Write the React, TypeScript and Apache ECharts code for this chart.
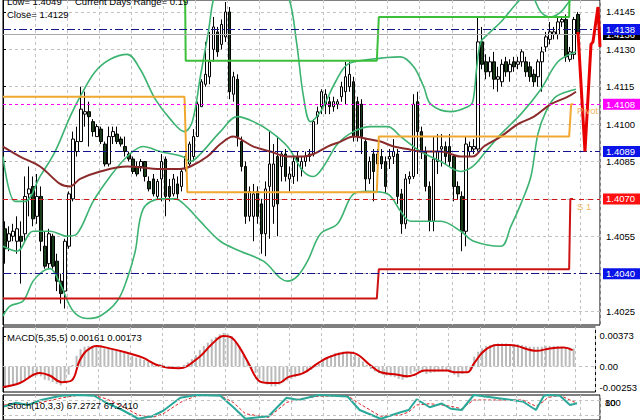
import React, { useEffect, useRef } from "react";
import * as echarts from "echarts";

const NBARS = 149;
const FONT = '"Liberation Sans", Arial, sans-serif';

// ---- candles (M30 bars) ----
const opens = [
  1.4058, 1.4053, 1.4055, 1.4053, 1.4055, 1.4056, 1.4072, 1.4075, 1.4063, 1.4071,
  1.4051, 1.4044, 1.4055, 1.4045, 1.4037, 1.4033, 1.4051, 1.4070, 1.4089, 1.4093,
  1.4104, 1.4105, 1.4101, 1.4095, 1.4098, 1.4092, 1.4084, 1.4095, 1.4096, 1.4094,
  1.4091, 1.4088, 1.4086, 1.4083, 1.4083, 1.4085, 1.4077, 1.4078, 1.4071, 1.4078,
  1.4086, 1.4075, 1.4072, 1.4076, 1.4075, 1.4082, 1.4084, 1.4087, 1.4095, 1.4107,
  1.4116, 1.4119, 1.4130, 1.4137, 1.4132, 1.4135, 1.4145, 1.4112, 1.4118, 1.4093,
  1.4083, 1.4063, 1.4063, 1.4073, 1.4068, 1.4056, 1.4075, 1.4067, 1.4087, 1.4083,
  1.4088, 1.4078, 1.4079, 1.4087, 1.4082, 1.4085, 1.4087, 1.4088, 1.4103, 1.4107,
  1.4108, 1.4109, 1.4107, 1.4108, 1.4111, 1.4113, 1.4115, 1.4117, 1.4109, 1.4108,
  1.4093, 1.4078, 1.4088, 1.4084, 1.4087, 1.4085, 1.4086, 1.4087, 1.4088, 1.4072,
  1.4060, 1.4078, 1.4079, 1.4109, 1.4097, 1.4089, 1.4075, 1.4061, 1.4085, 1.4090,
  1.4091, 1.4091, 1.4087, 1.4075, 1.4071, 1.4057, 1.4089, 1.4090, 1.4090, 1.4133,
  1.4125, 1.4121, 1.4125, 1.4118, 1.4117, 1.4125, 1.4121, 1.4125, 1.4124, 1.4125,
  1.4125, 1.4123, 1.4120, 1.4119, 1.4125, 1.4131, 1.4134, 1.4136, 1.4136, 1.4141,
  1.4142, 1.4126, 1.4128, 1.4144,
];
const closes = [
  1.4050, 1.4056, 1.4057, 1.4058, 1.4053, 1.4071, 1.4074, 1.4062, 1.4071, 1.4053,
  1.4043, 1.4056, 1.4043, 1.4037, 1.4032, 1.4053, 1.4072, 1.4094, 1.4093, 1.4106,
  1.4105, 1.4103, 1.4097, 1.4099, 1.4093, 1.4084, 1.4095, 1.4097, 1.4093, 1.4092,
  1.4089, 1.4086, 1.4081, 1.4080, 1.4085, 1.4079, 1.4074, 1.4072, 1.4077, 1.4085,
  1.4071, 1.4071, 1.4078, 1.4072, 1.4081, 1.4087, 1.4092, 1.4095, 1.4108, 1.4117,
  1.4120, 1.4125, 1.4139, 1.4129, 1.4140, 1.4145, 1.4113, 1.4119, 1.4095, 1.4083,
  1.4063, 1.4073, 1.4072, 1.4063, 1.4056, 1.4074, 1.4084, 1.4084, 1.4068, 1.4088,
  1.4079, 1.4080, 1.4085, 1.4085, 1.4085, 1.4087, 1.4088, 1.4101, 1.4105, 1.4113,
  1.4112, 1.4107, 1.4109, 1.4109, 1.4115, 1.4119, 1.4120, 1.4095, 1.4095, 1.4095,
  1.4078, 1.4085, 1.4081, 1.4088, 1.4084, 1.4075, 1.4087, 1.4089, 1.4071, 1.4060,
  1.4078, 1.4079, 1.4108, 1.4097, 1.4089, 1.4075, 1.4061, 1.4086, 1.4089, 1.4091,
  1.4087, 1.4085, 1.4075, 1.4072, 1.4057, 1.4092, 1.4091, 1.4091, 1.4133, 1.4124,
  1.4121, 1.4125, 1.4118, 1.4119, 1.4124, 1.4121, 1.4124, 1.4123, 1.4125, 1.4129,
  1.4121, 1.4119, 1.4117, 1.4125, 1.4129, 1.4135, 1.4137, 1.4137, 1.4141, 1.4142,
  1.4127, 1.4129, 1.4142, 1.4136,
];
const lows = [
  1.4044, 1.4049, 1.4053, 1.4048, 1.4036, 1.4053, 1.4063, 1.4059, 1.4060, 1.4049,
  1.4042, 1.4042, 1.4042, 1.4033, 1.4028, 1.4026, 1.4050, 1.4069, 1.4087, 1.4093,
  1.4099, 1.4091, 1.4095, 1.4095, 1.4092, 1.4083, 1.4083, 1.4092, 1.4092, 1.4091,
  1.4087, 1.4085, 1.4080, 1.4079, 1.4081, 1.4077, 1.4073, 1.4071, 1.4070, 1.4069,
  1.4063, 1.4069, 1.4071, 1.4070, 1.4073, 1.4081, 1.4083, 1.4085, 1.4095, 1.4107,
  1.4115, 1.4116, 1.4125, 1.4127, 1.4130, 1.4133, 1.4110, 1.4109, 1.4091, 1.4081,
  1.4060, 1.4061, 1.4053, 1.4060, 1.4048, 1.4047, 1.4054, 1.4060, 1.4055, 1.4077,
  1.4077, 1.4073, 1.4076, 1.4077, 1.4079, 1.4083, 1.4085, 1.4087, 1.4100, 1.4104,
  1.4104, 1.4104, 1.4105, 1.4106, 1.4109, 1.4108, 1.4113, 1.4093, 1.4093, 1.4088,
  1.4073, 1.4076, 1.4069, 1.4082, 1.4082, 1.4072, 1.4082, 1.4084, 1.4068, 1.4056,
  1.4058, 1.4076, 1.4078, 1.4080, 1.4086, 1.4073, 1.4057, 1.4057, 1.4080, 1.4083,
  1.4084, 1.4083, 1.4069, 1.4070, 1.4049, 1.4051, 1.4087, 1.4088, 1.4089, 1.4122,
  1.4118, 1.4119, 1.4114, 1.4113, 1.4115, 1.4119, 1.4117, 1.4121, 1.4122, 1.4123,
  1.4119, 1.4117, 1.4115, 1.4115, 1.4113, 1.4129, 1.4132, 1.4134, 1.4134, 1.4139,
  1.4125, 1.4125, 1.4126, 1.4135,
];
const highs = [
  1.4061, 1.4059, 1.4060, 1.4063, 1.4061, 1.4079, 1.4083, 1.4079, 1.4080, 1.4075,
  1.4057, 1.4058, 1.4056, 1.4048, 1.4040, 1.4054, 1.4073, 1.4097, 1.4099, 1.4115,
  1.4113, 1.4109, 1.4102, 1.4100, 1.4099, 1.4093, 1.4099, 1.4099, 1.4099, 1.4095,
  1.4095, 1.4089, 1.4087, 1.4085, 1.4086, 1.4085, 1.4079, 1.4080, 1.4078, 1.4088,
  1.4087, 1.4078, 1.4080, 1.4079, 1.4082, 1.4088, 1.4093, 1.4098, 1.4109, 1.4118,
  1.4133, 1.4137, 1.4143, 1.4139, 1.4142, 1.4149, 1.4147, 1.4121, 1.4120, 1.4095,
  1.4085, 1.4075, 1.4076, 1.4075, 1.4070, 1.4077, 1.4097, 1.4092, 1.4095, 1.4089,
  1.4090, 1.4083, 1.4087, 1.4089, 1.4087, 1.4089, 1.4090, 1.4102, 1.4107, 1.4114,
  1.4114, 1.4111, 1.4111, 1.4110, 1.4117, 1.4125, 1.4125, 1.4119, 1.4111, 1.4110,
  1.4094, 1.4087, 1.4090, 1.4090, 1.4090, 1.4087, 1.4090, 1.4094, 1.4090, 1.4074,
  1.4080, 1.4081, 1.4112, 1.4113, 1.4099, 1.4091, 1.4077, 1.4095, 1.4096, 1.4096,
  1.4093, 1.4096, 1.4088, 1.4077, 1.4073, 1.4095, 1.4093, 1.4094, 1.4143, 1.4139,
  1.4128, 1.4127, 1.4129, 1.4123, 1.4126, 1.4127, 1.4126, 1.4127, 1.4127, 1.4130,
  1.4127, 1.4125, 1.4122, 1.4126, 1.4131, 1.4137, 1.4141, 1.4139, 1.4143, 1.4143,
  1.4144, 1.4131, 1.4143, 1.4145,
];

// ---- overlays, x in bar units (0 = left edge of plot) ----
const bbUpper = [
  [0, 1.4087], [3, 1.4069], [5.5, 1.4069], [9.25, 1.4079], [13, 1.4089], [16.75, 1.4103],
  [19.25, 1.4111], [23, 1.4121], [26.75, 1.4126], [31, 1.4128], [34.25, 1.4122], [38, 1.411],
  [41.75, 1.4102], [45.25, 1.4097], [47.25, 1.4101], [49.25, 1.4119], [51.25, 1.4137],
  [53, 1.4153], [56.75, 1.4163], [66.75, 1.4163], [71.25, 1.4151], [73.25, 1.4133],
  [75, 1.4111], [76.75, 1.4101], [79.25, 1.4105], [83, 1.4117], [86, 1.4124], [91.75, 1.4126],
  [99.25, 1.4127], [102.5, 1.4123], [105, 1.4115], [106.75, 1.4108], [111.75, 1.4105],
  [116, 1.4107], [117.25, 1.4109], [118.25, 1.4123], [119.25, 1.4133], [121, 1.4136],
  [124.25, 1.4141], [128.5, 1.4149], [131.25, 1.4153], [134.25, 1.4145], [136.75, 1.4143],
  [139.25, 1.4145], [141.25, 1.4149], [143.5, 1.4152],
];
const bbMiddle = [
  [0, 1.4051], [3.5, 1.4049], [7.5, 1.4057], [11.75, 1.4057], [16, 1.4055], [18.5, 1.4056],
  [22.5, 1.4069], [26.75, 1.4079], [31, 1.4087], [35, 1.4091], [39.25, 1.4089], [44.75, 1.4087],
  [46.75, 1.4085], [49.25, 1.4088], [54.25, 1.4097], [58.5, 1.4103], [62.5, 1.4101],
  [66.75, 1.4097], [71, 1.4091], [75, 1.4081], [77.5, 1.4079], [80, 1.4083], [83.5, 1.4092],
  [87.5, 1.4097], [91.75, 1.4099], [96, 1.4099], [99.25, 1.4095], [104.25, 1.4089],
  [109.25, 1.4085], [114.25, 1.4081], [117.25, 1.4083], [120.5, 1.4089], [124.25, 1.4096],
  [129.25, 1.4104], [134.25, 1.4114], [138.5, 1.4125], [143, 1.4129],
];
const bbLower = [
  [0, 1.4023], [1.75, 1.4027], [5, 1.4029], [7.5, 1.4037], [10, 1.4041], [11.75, 1.4042],
  [14.25, 1.4036], [17.5, 1.4025], [21, 1.4022], [24.25, 1.4023], [28.5, 1.4029], [31, 1.4038],
  [33, 1.4049], [35, 1.4066], [39.25, 1.407], [43, 1.407], [45.75, 1.4067], [49.25, 1.4061],
  [54.25, 1.4053], [59.25, 1.4049], [65, 1.4045], [71, 1.4037], [73.5, 1.4039], [76, 1.4045],
  [79.25, 1.4056], [83.5, 1.406], [87.5, 1.4072], [91, 1.4073], [96, 1.4072], [99.25, 1.4065],
  [101.75, 1.4061], [109.25, 1.4061], [114.25, 1.4057], [117.5, 1.4053], [124.25, 1.4051],
  [126.75, 1.4059], [129.25, 1.4068], [131.75, 1.4079], [133.5, 1.4096], [135.5, 1.4105],
  [138, 1.4111], [143, 1.4114],
];
const movingAvg = [
  [0, 1.4091], [4.25, 1.4087], [9.25, 1.4083], [14.25, 1.4076], [16.75, 1.4075], [19.25, 1.4078],
  [24.25, 1.4081], [31, 1.4083], [39.25, 1.4082], [44.25, 1.4082], [46.75, 1.4083], [51, 1.4087],
  [54.25, 1.4092], [57.5, 1.4095], [59.25, 1.4094], [62.5, 1.4091], [66.75, 1.4089], [71, 1.4087],
  [75, 1.4087], [77.5, 1.4088], [81, 1.4091], [84.25, 1.4093], [87.5, 1.4095], [91, 1.4094],
  [94.25, 1.4093], [97.5, 1.4091], [101, 1.409], [104.25, 1.4089], [109.25, 1.4089],
  [114.25, 1.4087], [117.25, 1.4087], [120, 1.4091], [124.25, 1.4095], [128.5, 1.41],
  [132.5, 1.4103], [136.75, 1.4108], [141, 1.4111], [143, 1.4113],
];
const pivotLine = [
  [0, 1.4111], [45.3, 1.4111], [46, 1.40727], [93.3, 1.40727], [93.8, 1.4095],
  [141.3, 1.4095], [141.8, 1.4108], [142.3, 1.4108],
];
const s1Line = [
  [0, 1.403], [93.3, 1.403], [93.8, 1.40418], [141.3, 1.40418], [141.6, 1.407], [142.3, 1.407],
];
const r1Line = [
  [45.4, 1.416], [45.6, 1.41254], [93.3, 1.41254], [93.8, 1.4143], [141.3, 1.4143], [141.5, 1.416],
];
const forecast = [
  [143.5, 1.4137], [145.25, 1.4089], [146.75, 1.4132], [147.25, 1.4133], [148.5, 1.4147], [149, 1.4131],
];
const priceTicks = [1.4025, 1.404, 1.4055, 1.407, 1.4085, 1.41, 1.4115, 1.413, 1.4145];
const levels = [
  { value: 1.4136, line: "#a8a8a8", type: "solid", box: "#000000" },
  { value: 1.4138, line: "#14148c", type: [8, 3, 2, 3], box: "#0a14e8" },
  { value: 1.4108, line: "#ff00ff", type: [3, 3], box: "#ff00ff" },
  { value: 1.4089, line: "#14148c", type: [8, 3, 2, 3], box: "#0a14e8" },
  { value: 1.407, line: "#d01818", type: [5, 4], box: "#ff1010" },
  { value: 1.404, line: "#14148c", type: [8, 3, 2, 3], box: "#0a14e8" },
];

// ---- MACD(5,35,5) ----
const macdHist = [
  -0.0024, -0.0024, -0.0023, -0.0022, -0.002, -0.0016, -0.0013, -0.0012, -0.0011, -0.0012,
  -0.0016, -0.0017, -0.0019, -0.0021, -0.0023, -0.0019, -0.001, 0.0002, 0.0013, 0.0021,
  0.0024, 0.0025, 0.0025, 0.0025, 0.0024, 0.0022, 0.0022, 0.0021, 0.002, 0.0019,
  0.0017, 0.0015, 0.0013, 0.0011, 0.001, 0.0008, 0.0006, 0.0004, 0.0003, 0.0003,
  0.0001, 0.0, -0.0001, -0.0001, 0.0, 0.0002, 0.0005, 0.0009, 0.0014, 0.002,
  0.0025, 0.0029, 0.0033, 0.0036, 0.0039, 0.0041, 0.004, 0.0037, 0.0031, 0.0024,
  0.0014, 0.0006, -0.0002, -0.0008, -0.0015, -0.0019, -0.0022, -0.0024, -0.0024, -0.0022,
  -0.0019, -0.0017, -0.0015, -0.0013, -0.0011, -0.0009, -0.0007, -0.0004, -0.0001, 0.0003,
  0.0007, 0.0011, 0.0014, 0.0016, 0.0017, 0.0018, 0.0018, 0.0017, 0.0014, 0.0011,
  0.0006, 0.0002, -0.0003, -0.0006, -0.0008, -0.001, -0.0011, -0.0012, -0.0013, -0.0015,
  -0.0016, -0.0014, -0.0009, -0.0006, -0.0006, -0.0007, -0.0009, -0.0008, -0.0007, -0.0006,
  -0.0006, -0.0006, -0.0008, -0.001, -0.0013, -0.0009, -0.0006, -0.0003, 0.0012, 0.0018,
  0.0022, 0.0025, 0.0026, 0.0027, 0.0028, 0.0028, 0.0028, 0.0027, 0.0027, 0.0027,
  0.0026, 0.0025, 0.0024, 0.0024, 0.0024, 0.0024, 0.0025, 0.0025, 0.0025, 0.0025,
  0.0024, 0.0023, 0.0023, 0.0022,
];
const macdSignal = [
  [0, -0.0025], [4.25, -0.002], [9.25, -0.0008], [11.75, -0.0011], [14.75, -0.0019],
  [17.25, -0.0017], [19.25, 0.0007], [21, 0.0019], [23.5, 0.0025], [26.75, 0.0022],
  [31, 0.0017], [35, 0.0011], [39.25, 0.0001], [44.25, -0.0002], [49.25, 0.0011],
  [52.5, 0.0027], [55.5, 0.0037], [57.5, 0.0035], [59.25, 0.0025], [61.75, 0.0004],
  [64.25, -0.0017], [66.75, -0.002], [69.25, -0.002], [71.75, -0.0013], [75.5, -0.0008],
  [79.25, 0.0004], [81.75, 0.0011], [86.75, 0.0017], [88.5, 0.0016], [92.5, 0.0001],
  [95, -0.0007], [99.25, -0.001], [101.75, -0.0012], [103.5, -0.001], [106, -0.0005],
  [111.75, -0.0005], [113.5, -0.0007], [116.75, -0.0007], [118.5, 0.0004], [121, 0.0019],
  [124.25, 0.0026], [127.5, 0.0026], [134.25, 0.0019], [137.5, 0.0022], [141, 0.0023],
  [143.25, 0.002],
];
const macdTicks = [-0.00253, 0, 0.00373];

// ---- Stochastic(10,3,3) ----
const stochK = [
  [0.25, 54], [3.25, 69], [6.25, 60], [9.5, 80], [14.5, 97], [18.75, 100], [22.75, 97],
  [25.75, 69], [29.75, 40], [33.75, 5], [37.25, 15], [40, 37], [44.25, 89], [48.25, 100],
  [54.25, 97], [57.5, 51], [60.5, 5], [66.25, 15], [70.75, 89], [73.75, 80], [78.75, 100],
  [86, 94], [89, 40], [94.25, 5], [99.25, 31], [101.25, 40], [103.25, 83], [106.5, 51],
  [109.5, 66], [111.75, 45], [114.5, 40], [117.5, 100], [129.75, 74], [133, 40], [135, 97],
  [136, 100], [139, 97], [141.5, 60], [143.25, 67],
];
const stochD = [
  [0.25, 60], [3.25, 62], [6.25, 63], [9.5, 70], [14.5, 88], [18.75, 99], [22.75, 98],
  [25.75, 85], [29.75, 55], [33.75, 20], [37.25, 10], [40, 25], [44.25, 70], [48.25, 97],
  [54.25, 98], [57.5, 70], [60.5, 25], [66.25, 10], [70.75, 70], [73.75, 84], [78.75, 95],
  [86, 97], [89, 65], [94.25, 15], [99.25, 20], [101.25, 32], [103.25, 60], [106.5, 65],
  [109.5, 60], [111.75, 55], [114.5, 45], [117.5, 80], [129.75, 80], [133, 55], [135, 75],
  [136, 90], [139, 99], [141.5, 80], [143.25, 67],
];

const cats = Array.from({ length: NBARS }, (_, i) => String(i));
const candleData = cats.map((_, i) =>
  i < opens.length ? [opens[i], closes[i], lows[i], highs[i]] : "-"
);
const histData = cats.map((_, i) => (i < macdHist.length ? macdHist[i] : "-"));

const gridDash = { show: true, lineStyle: { color: "#c2c2c2", type: [3, 3], width: 1 } };
const hiddenCat = (gridIndex: number) => ({
  type: "category", gridIndex, data: cats, boundaryGap: true,
  axisLine: { show: false }, axisTick: { show: false }, axisLabel: { show: false }, splitLine: { show: false },
});
const barAxis = (gridIndex: number) => ({
  type: "value", gridIndex, min: 0, max: NBARS, interval: 8,
  axisLine: { show: false }, axisTick: { show: false }, axisLabel: { show: false }, splitLine: gridDash,
});
const lineSeries = (data: number[][], color: string, width: number, extra: any = {}) => ({
  type: "line", xAxisIndex: 1, yAxisIndex: 0, data, symbol: "none", silent: true,
  lineStyle: { color, width }, z: 4, ...extra,
});
const textEl = (text: string, x: number, y: number, fill = "#000", size = 9.5) => ({
  type: "text", x, y, silent: true, z: 100,
  style: { text, fill, font: `${size}px ${FONT}`, textAlign: "left", textVerticalAlign: "middle", align: "left", verticalAlign: "middle" },
});

const option: any = {
  animation: false,
  backgroundColor: "#ffffff",
  textStyle: { fontFamily: FONT },
  grid: [
    { left: 3, right: 40, top: -1, height: 326, show: true, borderColor: "#000", borderWidth: 1, backgroundColor: "#fff" },
    { left: 3, right: 40, top: 327, height: 65, show: true, borderColor: "#000", borderWidth: 1, backgroundColor: "#fff" },
    { left: 3, right: 40, top: 395, height: 36, show: true, borderColor: "#000", borderWidth: 1, backgroundColor: "#fff" },
  ],
  xAxis: [hiddenCat(0), barAxis(0), hiddenCat(1), barAxis(1), barAxis(2)],
  yAxis: [
    {
      type: "value", gridIndex: 0, position: "right", min: 1.40194, max: 1.41498,
      axisLine: { show: true, lineStyle: { color: "#000" } },
      axisTick: { show: true, length: 3, customValues: priceTicks, lineStyle: { color: "#000" } },
      axisLabel: { customValues: priceTicks, formatter: (v: number) => v.toFixed(4), color: "#000", fontSize: 9.5, fontFamily: FONT, margin: 6 },
      splitLine: gridDash,
    },
    {
      type: "value", gridIndex: 1, position: "right", min: -0.0031, max: 0.0048,
      axisLine: { show: true, lineStyle: { color: "#000" } },
      axisTick: { show: true, length: 3, customValues: macdTicks, lineStyle: { color: "#000" } },
      axisLabel: { customValues: macdTicks, formatter: (v: number) => (v === 0 ? "0.00" : v.toFixed(5)), color: "#000", fontSize: 9.5, fontFamily: FONT, margin: 4 },
      splitLine: { show: false },
    },
    {
      type: "value", gridIndex: 2, position: "right", min: 0, max: 100,
      axisLine: { show: true, lineStyle: { color: "#000" } },
      axisTick: { show: false }, axisLabel: { show: false }, splitLine: { show: false },
    },
  ],
  series: [
    {
      type: "candlestick", xAxisIndex: 0, yAxisIndex: 0, data: candleData, barWidth: 3, silent: true, z: 3,
      itemStyle: { color: "#ffffff", color0: "#1a3d1a", borderColor: "#000000", borderColor0: "#000000", borderWidth: 1 },
    },
    lineSeries(bbMiddle, "#3cb371", 1.6, {
      smooth: 0.35,
      markLine: {
        silent: true, symbol: "none", animation: false, precision: 6,
        data: levels.map((l) => ({
          yAxis: l.value,
          lineStyle: { color: l.line, type: l.type, width: 1 },
          label: {
            show: true, position: "end", distance: 3, formatter: l.value.toFixed(4),
            color: "#fff", backgroundColor: l.box, padding: [1, 8, 0, 3], lineHeight: 10,
            fontSize: 9.5, fontFamily: FONT,
          },
        })),
      },
    }),
    lineSeries(bbUpper, "#3cb371", 1.6, { smooth: 0.35 }),
    lineSeries(bbLower, "#3cb371", 1.6, { smooth: 0.35 }),
    lineSeries(movingAvg, "#8b2a2a", 2, { smooth: 0.35 }),
    lineSeries(pivotLine, "#f0a830", 2),
    lineSeries(s1Line, "#cc1414", 2),
    lineSeries(r1Line, "#3cc03c", 2),
    lineSeries(forecast, "#e80000", 3, { z: 6 }),
    {
      type: "bar", xAxisIndex: 2, yAxisIndex: 1, data: histData, barWidth: 2, silent: true,
      itemStyle: { color: "#bababa" },
      markLine: {
        silent: true, symbol: "none", label: { show: false }, precision: 6,
        data: [{ yAxis: 0 }], lineStyle: { color: "#c2c2c2", type: [3, 3], width: 1 },
      },
    },
    {
      type: "line", xAxisIndex: 3, yAxisIndex: 1, data: macdSignal, symbol: "none", silent: true,
      smooth: 0.4, lineStyle: { color: "#d40000", width: 2 }, z: 4,
    },
    {
      type: "line", xAxisIndex: 4, yAxisIndex: 2, data: stochD, symbol: "none", silent: true,
      lineStyle: { color: "#e02020", width: 1, type: [3, 2] }, z: 3,
      markLine: {
        silent: true, symbol: "none", label: { show: false },
        data: [{ yAxis: 80 }, { yAxis: 20 }], lineStyle: { color: "#c2c2c2", type: [3, 3], width: 1 },
      },
    },
    {
      type: "line", xAxisIndex: 4, yAxisIndex: 2, data: stochK, symbol: "none", silent: true,
      lineStyle: { color: "#2aa89a", width: 2 }, z: 4,
    },
  ],
  graphic: [
    textEl("Low= 1.4049", 7, 1),
    textEl("Current Days Range= 0.19", 75, 1),
    textEl("Close= 1.4129", 7, 14),
    textEl("MACD(5,35,5) 0.00161 0.00173", 7, 337),
    textEl("Stoch(10,3,3) 67.2727 67.2410", 7, 405),
    textEl("Pivot", 577, 110, "#f0b860"),
    textEl("S 1", 577, 206, "#f0b860"),
    textEl("100", 605, 402),
    textEl("80", 605, 402),
  ],
};

export default function App() {
  const ref = useRef<HTMLDivElement>(null);
  useEffect(() => {
    if (!ref.current) return;
    const chart = echarts.init(ref.current, null, { renderer: "svg" });
    chart.setOption(option);
    return () => chart.dispose();
  }, []);
  return (
    <div
      ref={ref}
      style={{ position: "fixed", left: 0, top: 0, width: 640, height: 420, background: "#fff" }}
    />
  );
}
